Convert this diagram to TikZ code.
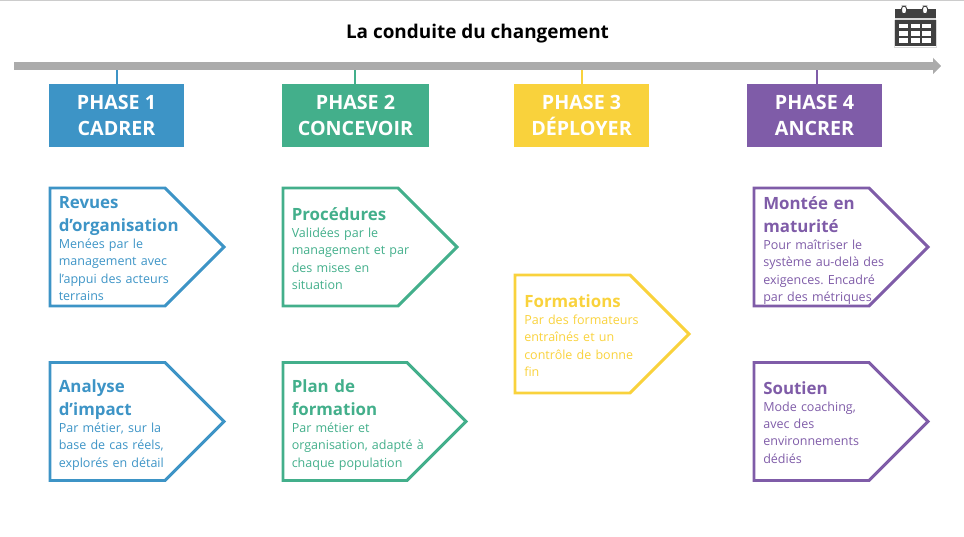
\documentclass[tikz,border=0pt]{standalone}
\usepackage{fontspec}
\setmainfont{Open Sans}
\usetikzlibrary{arrows.meta,positioning,shapes.symbols}
\definecolor{cblue}{HTML}{3D94C6}
\definecolor{cgreen}{HTML}{43AF8B}
\definecolor{cyellow}{HTML}{F9D23C}
\definecolor{cpurple}{HTML}{7F5CA8}
\definecolor{cgrey}{HTML}{ABABAB}
\definecolor{cdark}{HTML}{404040}
\begin{document}
\begin{tikzpicture}
[x=0.025cm, y=-0.025cm,
% STYLES
% The phase style is used to draw the boxes under the timeline
phase/.style={rectangle, fill=#1, text=white, inner sep=0pt, minimum height=1.575cm, align=center, font=\bfseries\fontsize{14}{18.6}\selectfont},
% The lever style is used to draw the arrow shaped frames
lever/.style={signal, signal to=east, signal pointer angle=90, draw=#1, line width=2.1pt, inner sep=0pt, outer sep=0pt, anchor=west, minimum width=4.35cm, minimum height=2.95cm},
% The headline and comment styles are used to write inside the frames
headline/.style={text=#1, anchor=north west, inner sep=0pt, text width=3.5cm, execute at end node={\vphantom{p}}, align=left, font=\bfseries\fontsize{12}{16.4}\selectfont},
comment/.style={text=#1, anchor=north west, inner sep=0pt, text width=3.5cm, align=left, yshift=-0.075cm, font=\frenchspacing\fontsize{8.9}{12.35}\selectfont},
link/.style={draw=#1, line width=1.4pt}]
\useasboundingbox (0,0) rectangle (964,537);
\draw[black!20, line width=0.7pt] (0,0.5) -- (964,0.5);
% Draw title and timeline
\node [font=\bfseries\fontsize{13.45}{15}\selectfont] (title) at (477.5,34) {La conduite du changement};
\coordinate (line-start) at (14,66);
\coordinate (line-end) at (941,66);
% Draw phases
\node [phase=cblue, minimum width=3.375cm] (phase1) at (116.5,115.5) {PHASE 1\\CADRER};
\node [phase=cgreen, minimum width=3.675cm] (phase2) at (355.5,115.5) {PHASE 2\\CONCEVOIR};
\node [phase=cyellow, minimum width=3.375cm] (phase3) at (581.5,115.5) {PHASE 3\\DÉPLOYER};
\node [phase=cpurple, minimum width=3.375cm] (phase4) at (814.5,115.5) {PHASE 4\\ANCRER};
% Draw the links between phases and timeline
\coordinate (tick1) at (117,68);
\coordinate (tick2) at (355,68);
\coordinate (tick3) at (582,68);
\coordinate (tick4) at (817,68);
\draw[link=cblue] (tick1) -- (tick1 |- phase1.north);
\draw[link=cgreen] (tick2) -- (tick2 |- phase2.north);
\draw[link=cyellow] (tick3) -- (tick3 |- phase3.north);
\draw[link=cpurple] (tick4) -- (tick4 |- phase4.north);
\draw[cgrey, line width=5.7pt, -{Triangle[length=0.2cm, width=0.4cm]}] (line-start) -- (line-end);
%%%%%%%%%%%%%%%
% phase 1
\node [lever=cblue] (revues) at (50,247) {};
\node [headline=cblue] (revues-head) at (58.5,196) {Revues\\d’organisation};
\node [comment=cblue] at (revues-head.south west) {Menées par le\\management avec\\l’appui des acteurs\\terrains};
\node [lever=cblue] (analyse) at (50,421.5) {};
\node [headline=cblue] (analyse-head) at (58.5,379) {Analyse\\d’impact};
\node [comment=cblue] at (analyse-head.south west) {Par métier, sur la\\base de cas réels,\\explorés en détail};
% phase 2
\node [lever=cgreen] (procedures) at (283,247) {};
\node [headline=cgreen] (procedures-head) at (291.5,207) {Procédures};
\node [comment=cgreen] at (procedures-head.south west) {Validées par le\\management et par\\des mises en\\situation};
\node [lever=cgreen, minimum width=4.575cm] (plan) at (283,421.5) {};
\node [headline=cgreen] (plan-head) at (291.5,379) {Plan de\\formation};
\node [comment=cgreen] at (plan-head.south west) {Par métier et\\organisation, adapté à\\chaque population};
% phase 3
\node [lever=cyellow] (formations) at (515,334) {};
\node [headline=cyellow] (formations-head) at (524,294) {Formations};
\node [comment=cyellow] at (formations-head.south west) {Par des formateurs\\entraînés et un\\contrôle de bonne\\fin};
% phase 4
\node [lever=cpurple] (montee) at (754,247) {};
\node [headline=cpurple] (montee-head) at (763,196) {Montée en\\maturité};
\node [comment=cpurple] at (montee-head.south west) {Pour maîtriser le\\système au-delà des\\exigences. Encadré\\par des métriques};
\node [lever=cpurple] (soutien) at (754,421.5) {};
\node [headline=cpurple] (soutien-head) at (763,381) {Soutien};
\node [comment=cpurple] at (soutien-head.south west) {Mode coaching,\\avec des\\environnements\\dédiés};
%%%%%%%%%%%%%%%
% calendar icon
\fill[cdark] (895,9) rectangle (935.5,46.5);
\fill[black!15] (895,18.5) rectangle (935.5,20);
\draw[black!15, line width=0.5pt] (894.5,20) -- (894.5,47) -- (936,47) -- (936,20);
\foreach \ringx in {904,925} {
  \draw[cdark, line width=0.7pt, fill=white, rounded corners=2pt] (\ringx-2.5,6) rectangle (\ringx+2.5,14);
}
\foreach \cellx in {899,910.5,922} {
  \foreach \celly in {24,31.5,38.5} {
    \fill[white] (\cellx,\celly) rectangle (\cellx+9,\celly+4.5);
  }
}
\end{tikzpicture}
\end{document}
